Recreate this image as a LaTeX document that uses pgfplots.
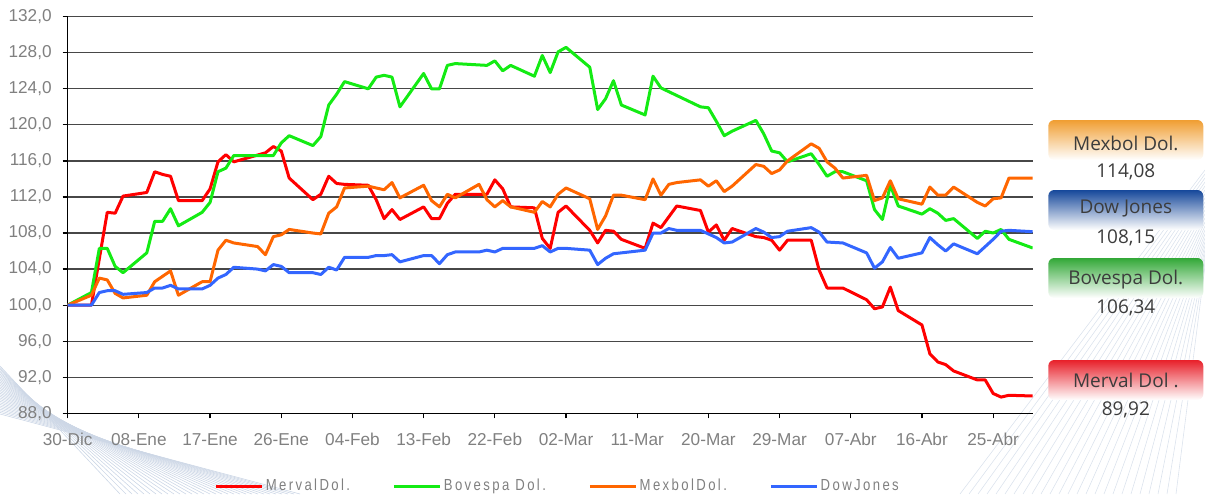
\documentclass[border=0pt]{standalone}
\usepackage{pgfplots}
\pgfplotsset{compat=1.18}
\usepackage{fontspec}
\setmainfont{Liberation Sans}
\newfontfamily\boxfont{Open Sans}
\newfontfamily\legfont[FakeStretch=0.82,LetterSpace=15]{Liberation Sans}
\definecolor{cred}{RGB}{255,0,0}
\definecolor{cgreen}{RGB}{20,235,20}
\definecolor{corange}{RGB}{255,102,0}
\definecolor{cblue}{RGB}{51,102,255}
\definecolor{ticktext}{RGB}{128,128,128}
\definecolor{boxtext}{RGB}{60,60,60}
\definecolor{bmex}{RGB}{240,158,50}
\definecolor{bdow}{RGB}{22,72,155}
\definecolor{bbov}{RGB}{50,168,55}
\definecolor{bmer}{RGB}{232,32,42}
\definecolor{deco}{RGB}{205,215,230}
\begin{document}
\begin{tikzpicture}
\useasboundingbox (0,0) rectangle (602.5pt,247pt);
% faint background decoration
\begin{scope}[x=0.5pt,y=-0.5pt,yshift=247pt]
\foreach \i in {0,...,30} \draw[deco,line width=0.3pt] (0,{366+1.6*\i}) -- ({120+6*\i},494);
\foreach \i in {0,...,24} \draw[deco!70,line width=0.3pt] (1205,{170+4*\i}) -- ({960+9*\i},494);
\end{scope}
% value boxes
\shade[top color=bmex, middle color=bmex!45!white, bottom color=white, rounded corners=3pt] (524.15pt,167pt) rectangle (601.65pt,187pt);
\node[text=boxtext, font=\boxfont\fontsize{9.5}{11}\selectfont] at (562.9pt,175.5pt) {Mexbol Dol.};
\node[text=boxtext, font=\boxfont\fontsize{9.5}{11}\selectfont] at (562.9pt,161.2pt) {114,08};
\shade[top color=bdow, middle color=bdow!45!white, bottom color=white, rounded corners=3pt] (524.15pt,132pt) rectangle (601.65pt,152pt);
\node[text=boxtext, font=\boxfont\fontsize{9.5}{11}\selectfont] at (562.9pt,142.5pt) {Dow Jones};
\node[text=boxtext, font=\boxfont\fontsize{9.5}{11}\selectfont] at (562.9pt,128pt) {108,15};
\shade[top color=bbov, middle color=bbov!45!white, bottom color=white, rounded corners=3pt] (524.15pt,98pt) rectangle (601.65pt,118pt);
\node[text=boxtext, font=\boxfont\fontsize{9.5}{11}\selectfont] at (562.9pt,107pt) {Bovespa Dol.};
\node[text=boxtext, font=\boxfont\fontsize{9.5}{11}\selectfont] at (562.9pt,93pt) {106,34};
\shade[top color=bmer, middle color=bmer!45!white, bottom color=white, rounded corners=3pt] (524.15pt,47pt) rectangle (601.65pt,67pt);
\node[text=boxtext, font=\boxfont\fontsize{9.5}{11}\selectfont] at (562.9pt,57pt) {Merval Dol .};
\node[text=boxtext, font=\boxfont\fontsize{9.5}{11}\selectfont] at (562.9pt,42pt) {89,92};
\begin{axis}[
  at={(33.85pt,40.35pt)}, anchor=south west,
  scale only axis, width=482.5pt, height=198.3pt,
  xmin=0, xmax=122, ymin=88, ymax=132,
  axis x line*=bottom, axis y line*=left,
  axis line style={-, black, line width=0.6pt},
  xtick={0,9,...,117},
  xticklabels={30-Dic,08-Ene,17-Ene,26-Ene,04-Feb,13-Feb,22-Feb,02-Mar,11-Mar,20-Mar,29-Mar,07-Abr,16-Abr,25-Abr},
  ytick={88,92,...,132},
  /pgf/number format/assume math mode=true,
  yticklabel={\pgfmathprintnumber[fixed,fixed zerofill,precision=1,use comma]{\tick}},
  ymajorgrids, grid style={black!72, line width=0.6pt},
  tick style={black, line width=0.6pt}, major tick length=2.5pt, tick align=outside,
  tick label style={font=\fontsize{8.6}{10}\selectfont, text=ticktext},
  xticklabel style={yshift=-4pt},
  yticklabel style={xshift=-2pt},
  legend columns=4,
  legend style={at={(0.1516,-0.1833)}, anchor=west, draw=none, fill=none, inner sep=0pt,
    font=\legfont\fontsize{8}{9}\selectfont, text=ticktext,
    /tikz/every even column/.append style={column sep=20pt},
    nodes={inner sep=1.2pt}},
  legend image code/.code={\draw[#1] (0pt,0pt) -- (23pt,0pt);},
  every axis plot/.append style={line width=1.5pt, line join=round, mark=none},
]
\addplot[cred] coordinates {
(0,100) (3,100) (5,110.3) (6,110.2) (7,112.1) (10,112.5) (11,114.8) (12,114.5) (13,114.3) (14,111.6)
(17,111.6) (18,112.9) (19,115.9) (20,116.7) (21,115.9) (25,116.9) (26,117.6) (27,117.1) (28,114.1)
(31,111.7) (32,112.3) (33,114.3) (34,113.5) (35,113.4) (38,113.3) (39,111.7) (40,109.6) (41,110.6) (42,109.5)
(45,110.9) (46,109.6) (47,109.6) (48,111.3) (49,112.3) (53,112.3) (54,113.9) (55,112.9) (56,110.9)
(59,110.8) (60,107.4) (61,106.3) (62,110.3) (63,111.0) (66,108.3) (67,106.9) (68,108.3) (69,108.2) (70,107.3)
(73,106.3) (74,109.1) (75,108.6) (77,111.0) (80,110.5) (81,108.1) (82,108.9) (83,107.2) (84,108.5)
(87,107.6) (88,107.5) (89,107.2) (90,106.1) (91,107.2) (94,107.2) (95,103.9) (96,101.9) (98,101.9)
(101,100.6) (102,99.6) (103,99.8) (104,102.0) (105,99.4) (108,97.8) (109,94.6) (110,93.7) (111,93.4) (112,92.7)
(115,91.7) (116,91.7) (117,90.2) (118,89.8) (119,90.0) (122,89.92)
};
\addplot[cgreen] coordinates {
(0,100) (3,101.4) (4,106.3) (5,106.3) (6,104.3) (7,103.6) (10,105.8) (11,109.3) (12,109.3) (13,110.7) (14,108.8)
(17,110.3) (18,111.4) (19,114.8) (20,115.2) (21,116.6) (26,116.6) (27,118.0) (28,118.8)
(31,117.7) (32,118.7) (33,122.2) (34,123.4) (35,124.8) (38,124.0) (39,125.3) (40,125.5) (41,125.3) (42,122.0)
(45,125.7) (46,124.0) (47,124.0) (48,126.6) (49,126.8) (53,126.6) (54,127.1) (55,126.0) (56,126.6)
(59,125.4) (60,127.7) (61,125.8) (62,128.1) (63,128.6) (66,126.4) (67,121.7) (68,122.9) (69,124.9) (70,122.2)
(73,121.1) (74,125.4) (75,124.1) (80,122.0) (81,121.9) (82,120.4) (83,118.8) (84,119.3)
(87,120.5) (88,119.0) (89,117.1) (90,116.9) (91,115.9) (94,116.8) (95,115.6) (96,114.3) (97,114.8) (98,114.8)
(101,113.8) (102,110.6) (103,109.5) (104,113.3) (105,111.0) (108,110.1) (109,110.7) (110,110.2) (111,109.4) (112,109.6)
(115,107.4) (116,108.2) (117,108.0) (118,108.4) (119,107.3) (122,106.34)
};
\addplot[corange] coordinates {
(0,100) (3,101.1) (4,103.0) (5,102.8) (6,101.3) (7,100.8) (10,101.1) (11,102.6) (12,103.2) (13,103.8) (14,101.1)
(17,102.6) (18,102.6) (19,106.1) (20,107.2) (21,106.9) (24,106.5) (25,105.6) (26,107.6) (27,107.8) (28,108.4)
(31,108.0) (32,107.9) (33,110.2) (34,110.9) (35,113.0) (38,113.2) (40,112.8) (41,113.6) (42,111.9)
(45,113.3) (46,111.6) (47,110.9) (48,112.3) (49,111.9) (52,113.4) (53,111.7) (54,110.9) (55,111.6) (56,110.9)
(59,110.3) (60,111.5) (61,110.9) (62,112.3) (63,113.0) (66,111.8) (67,108.4) (68,109.9) (69,112.2) (70,112.2)
(73,111.7) (74,114.0) (75,112.2) (76,113.4) (77,113.6) (80,113.9) (81,113.2) (82,113.8) (83,112.6) (84,113.2)
(87,115.6) (88,115.4) (89,114.6) (90,115.0) (91,116.0) (94,117.9) (95,117.4) (96,115.9) (97,115.2) (98,114.1)
(101,114.4) (102,111.6) (103,111.9) (104,113.8) (105,111.8) (108,111.2) (109,113.1) (110,112.2) (111,112.2) (112,113.1)
(115,111.4) (116,111.0) (117,111.8) (118,111.9) (119,114.1) (122,114.08)
};
\addplot[cblue] coordinates {
(0,100) (3,100) (4,101.4) (5,101.6) (6,101.6) (7,101.2) (10,101.4) (11,101.9) (12,101.9) (13,102.2) (14,101.8)
(17,101.8) (18,102.2) (19,103.0) (20,103.4) (21,104.2) (24,104.0) (25,103.8) (26,104.5) (27,104.3) (28,103.6)
(31,103.6) (32,103.4) (33,104.2) (34,103.9) (35,105.3) (38,105.3) (39,105.5) (40,105.5) (41,105.6) (42,104.8)
(45,105.5) (46,105.5) (47,104.6) (48,105.6) (49,105.9) (52,105.9) (53,106.1) (54,105.9) (55,106.3)
(59,106.3) (60,106.6) (61,105.9) (62,106.3) (63,106.3) (66,106.1) (67,104.5) (68,105.2) (69,105.7)
(73,106.1) (74,108.0) (75,108.0) (76,108.5) (77,108.3) (80,108.3) (81,107.9) (82,107.5) (83,106.9) (84,107.0)
(87,108.5) (88,108.1) (89,107.5) (90,107.6) (91,108.2) (94,108.6) (95,108.1) (96,107.0) (98,106.9)
(101,105.8) (102,104.1) (103,104.8) (104,106.4) (105,105.2) (108,105.8) (109,107.5) (110,106.7) (111,106.0) (112,106.8)
(115,105.7) (116,106.5) (117,107.3) (118,108.2) (119,108.3) (122,108.15)
};
\legend{MervalDol.,Bovespa Dol.,MexbolDol.,DowJones}
\end{axis}
\end{tikzpicture}
\end{document}
